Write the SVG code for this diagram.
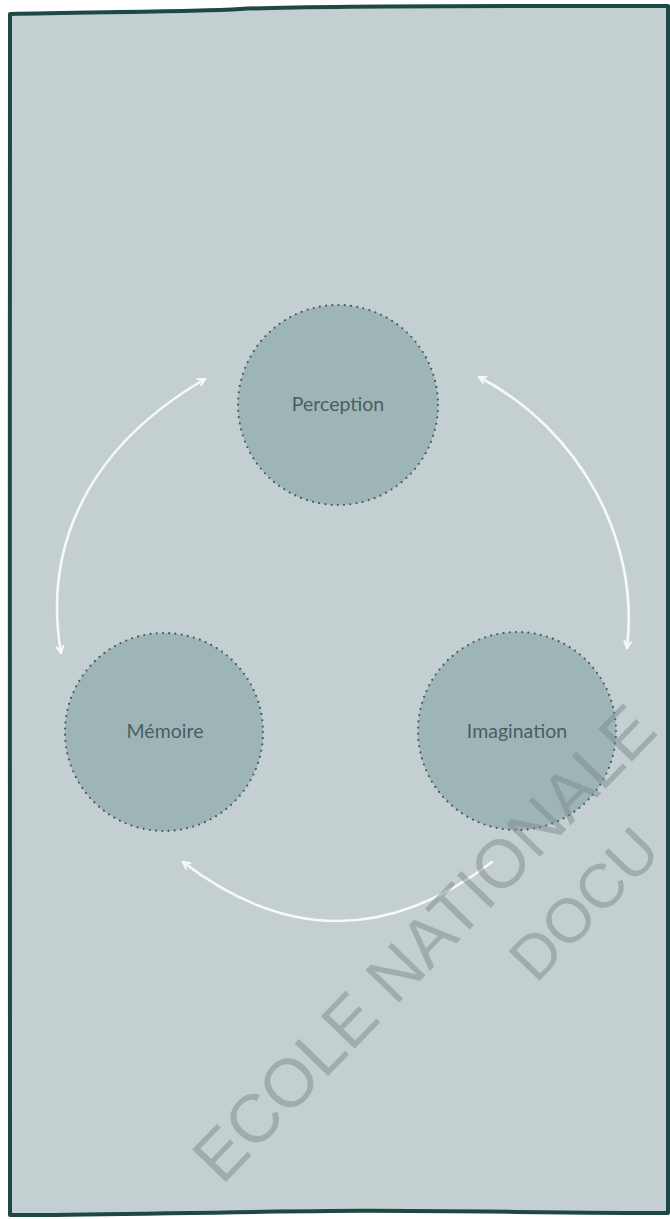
<svg xmlns="http://www.w3.org/2000/svg" width="670" height="1219" viewBox="0 0 670 1219">
  <style>
    .node circle { fill: #9eb5b8; stroke: #4b5859; stroke-width: 2.2; stroke-linecap: round; stroke-dasharray: 0 6.28; }
    .node text { font-family: Lato, "Open Sans", "Liberation Sans", sans-serif; font-size: 19.5px; fill: #4a5e61; text-anchor: middle; }
    .arc { fill: none; stroke: #f7f9f9; stroke-width: 2.6; stroke-linecap: round; }
    .wm { font-family: "Liberation Sans", Arial, sans-serif; font-size: 68px; fill: #7d8a8c; fill-opacity: 0.5; }
  </style>
  <defs>
    <marker id="head" viewBox="0 0 10 10" refX="8" refY="5" markerUnits="userSpaceOnUse" markerWidth="10" markerHeight="10" orient="auto-start-reverse">
      <path d="M1.5,1.5 L8,5 L1.5,8.5" fill="none" stroke="#f7f9f9" stroke-width="2" stroke-linecap="round" stroke-linejoin="round"/>
    </marker>
  </defs>

  <rect x="0" y="0" width="670" height="1219" fill="#ffffff"/>
  <path id="frame" d="M 10,14 C 80,12 190,12 240,9 C 320,5 560,6 668,6 L 668,1213 C 560,1213 420,1210 330,1211 C 200,1212 80,1216 10,1215 C 11,900 9,400 10,14 Z" fill="#c3cfd1" stroke="#1e4846" stroke-width="4" stroke-linejoin="round"/>

  <g id="connectors">
    <path class="arc" d="M 61,653 C 45,560 75,455 205,379" marker-start="url(#head)" marker-end="url(#head)"/>
    <path class="arc" d="M 479,377 C 580,430 640,540 627,648" marker-start="url(#head)" marker-end="url(#head)"/>
    <path class="arc" d="M 492,862 Q 337,980 183,862" marker-end="url(#head)"/>
  </g>

  <g id="node-perception" class="node">
    <circle cx="338" cy="405" r="100"/>
    <text x="338" y="411">Perception</text>
  </g>
  <g id="node-memoire" class="node">
    <circle cx="164" cy="732" r="99"/>
    <text x="165" y="738">Mémoire</text>
  </g>
  <g id="node-imagination" class="node">
    <circle cx="517" cy="731" r="99"/>
    <text x="517" y="738">Imagination</text>
  </g>

  <g id="watermark" transform="rotate(-46 222 1186)">
    <text class="wm" x="222" y="1186">ECOLE NATIONALE</text>
    <text class="wm" x="585" y="1272" style="font-size:62px">DOCU</text>
  </g>
</svg>
